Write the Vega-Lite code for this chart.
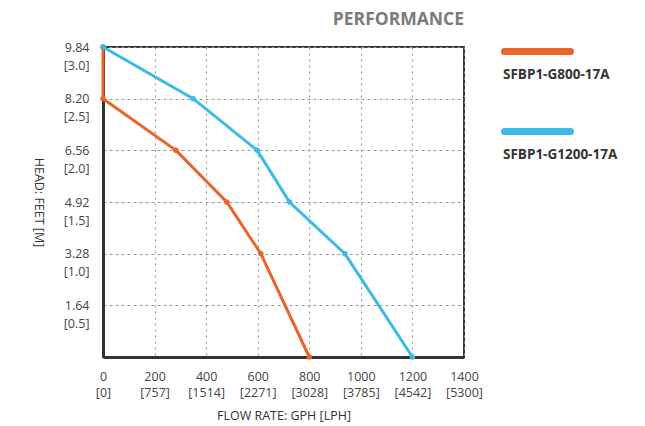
{
  "$schema": "https://vega.github.io/schema/vega-lite/v6.json",
  "width": 361,
  "height": 310,
  "autosize": {"type": "none"},
  "padding": {"left": 103, "top": 47, "right": 181, "bottom": 69},
  "title": {"text": "PERFORMANCE", "anchor": "end", "frame": "group", "fontSize": 17.5, "fontWeight": "bold", "color": "#7a7a7a", "offset": 13, "font": "Open Sans"},
  "config": {"view": {"stroke": "#333", "strokeWidth": 2}, "font": "Open Sans"},
  "data": {"values": [
    {"model": "SFBP1-G800-17A", "i": 0, "gph": 0, "m": 3.0},
    {"model": "SFBP1-G800-17A", "i": 1, "gph": 0, "m": 2.5},
    {"model": "SFBP1-G800-17A", "i": 2, "gph": 283, "m": 2.0},
    {"model": "SFBP1-G800-17A", "i": 3, "gph": 480, "m": 1.5},
    {"model": "SFBP1-G800-17A", "i": 4, "gph": 612, "m": 1.0},
    {"model": "SFBP1-G800-17A", "i": 5, "gph": 800, "m": 0},
    {"model": "SFBP1-G1200-17A", "i": 0, "gph": 0, "m": 3.0},
    {"model": "SFBP1-G1200-17A", "i": 1, "gph": 350, "m": 2.5},
    {"model": "SFBP1-G1200-17A", "i": 2, "gph": 598, "m": 2.0},
    {"model": "SFBP1-G1200-17A", "i": 3, "gph": 723, "m": 1.5},
    {"model": "SFBP1-G1200-17A", "i": 4, "gph": 938, "m": 1.0},
    {"model": "SFBP1-G1200-17A", "i": 5, "gph": 1200, "m": 0}
  ]},
  "encoding": {
    "x": {"field": "gph", "type": "quantitative", "scale": {"domain": [0, 1400], "nice": false},
      "axis": {"values": [0, 200, 400, 600, 800, 1000, 1200, 1400], "title": "FLOW RATE: GPH [LPH]",
        "labelExpr": "[format(datum.value, 'd'), '[' + (datum.value == 1400 ? '5300' : format(datum.value * 3.785, 'd')) + ']']",
        "grid": true, "gridDash": [2, 4], "gridColor": "#999", "gridWidth": 1.2, "ticks": false,
        "domainColor": "#333", "domainWidth": 3, "labelPadding": 13, "labelFontSize": 12.5, "labelColor": "#444",
        "labelLineHeight": 16, "labelFlush": false, "labelOverlap": false, "labelBound": false,
        "titleFontSize": 12.5, "titleFontWeight": "normal", "titleColor": "#333", "titlePadding": 11}},
    "y": {"field": "m", "type": "quantitative", "scale": {"domain": [0, 3], "nice": false},
      "axis": {"values": [0.5, 1, 1.5, 2, 2.5, 3], "title": "HEAD: FEET [M]", "titleAngle": 90,
        "titleX": -65, "titleY": 155, "titleAlign": "center", "titleBaseline": "middle",
        "labelExpr": "[format(datum.value * 3.28, '.2f'), '[' + format(datum.value, '.1f') + ']']",
        "grid": true, "gridDash": [3, 3], "gridColor": "#999", "gridWidth": 1.2, "ticks": false,
        "domainColor": "#333", "domainWidth": 3, "labelPadding": 14, "labelFontSize": 12.5, "labelColor": "#444",
        "labelLineHeight": 18, "labelOverlap": false, "labelBound": false, "labelFlush": false,
        "titleFontSize": 12.5, "titleFontWeight": "normal", "titleColor": "#333"}},
    "color": {"field": "model", "type": "nominal",
      "scale": {"domain": ["SFBP1-G800-17A", "SFBP1-G1200-17A"], "range": ["#E9632A", "#3BBAE8"]},
      "legend": {"orient": "none", "legendX": 398, "legendY": 19, "title": null,
        "symbolType": "M -1 -4.6 L 12.2 -4.6", "symbolSize": 100, "symbolStrokeWidth": 7,
        "labelOffset": -15, "labelFontSize": 13.5, "labelFontWeight": "bold", "labelColor": "#333",
        "rowPadding": 36,
        "encode": {"symbols": {"update": {"strokeCap": {"value": "round"}, "fill": {"value": "transparent"}}}}}},
    "order": {"field": "i", "type": "quantitative"}
  },
  "layer": [
    {"mark": {"type": "line", "interpolate": "linear", "strokeWidth": 3}},
    {"mark": {"type": "point", "filled": true, "size": 30, "opacity": 1}}
  ]
}
